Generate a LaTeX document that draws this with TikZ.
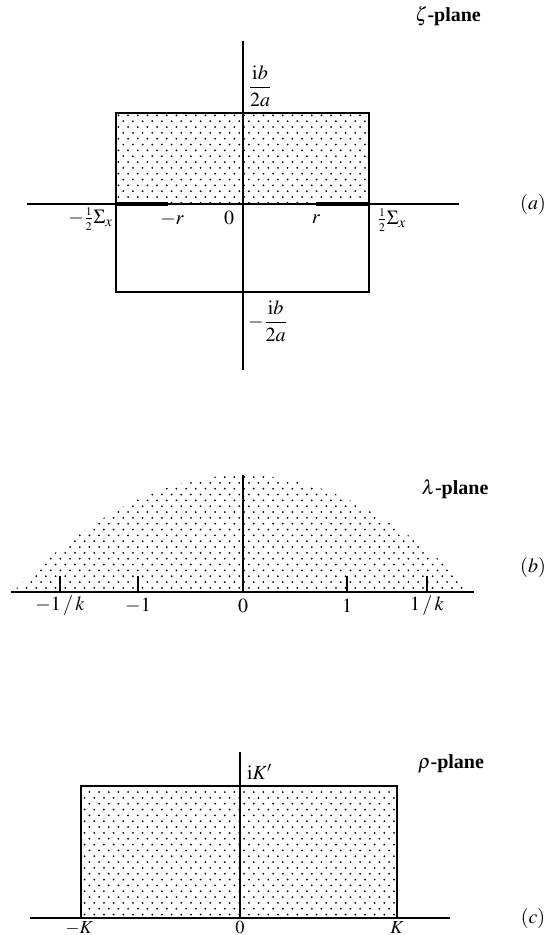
\documentclass[tikz,border=0pt]{standalone}
\usepackage{amsmath}
\usepackage{mathptmx}
\usepackage{fontspec}
\setmainfont{Liberation Serif}
\usetikzlibrary{patterns}
\pgfdeclarepatternformonly{stipple}{\pgfqpoint{-1pt}{-1pt}}{\pgfqpoint{7pt}{8pt}}{\pgfqpoint{5.8pt}{7pt}}{%
  \pgfpathcircle{\pgfqpoint{1.45pt}{1.75pt}}{0.6pt}%
  \pgfpathcircle{\pgfqpoint{4.35pt}{5.25pt}}{0.6pt}%
  \pgfusepath{fill}}
\newcommand{\halfsig}{{\textstyle\frac{\scriptscriptstyle 1}{\scriptscriptstyle 2}}\Sigma_x}
\tikzset{axis/.style = {line width=0.9pt}}
\tikzset{cut/.style = {line width=2.4pt}}
\tikzset{low/.style = {anchor=base, inner sep=0pt, font=\fontsize{11}{13}\selectfont}}
\tikzset{every picture/.style={x=0.6pt, y=-0.6pt,
    every node/.style={font=\fontsize{12}{14}\selectfont, inner sep=1pt}}}

\begin{document}
\begin{tikzpicture}
      \useasboundingbox (0,0) rectangle (544,935);
      % (a) zeta-plane
      \coordinate (ta) at (243,41);
      \coordinate (ba) at (243,370);
      \coordinate (la) at (27,204);
      \coordinate (ra) at (459,204);
      \coordinate (a1) at (116,113);
      \coordinate (a2) at (369,204);
      \coordinate (a3) at (369,292);
      \coordinate (a4) at (116,204);
      \coordinate (mr) at (168,204);
      \coordinate (pr) at (316,204);
      \fill[pattern=stipple] (a1) rectangle (a2);
      \draw[axis] (a1) rectangle (a3);
      \draw[axis] (la) -- (ra);
      \draw[axis] (ta) -- (ba);
      \draw[cut] (a4) -- (mr);
      \draw[cut] (pr) -- (a2);
      \node (zp) at (448,16) {$\zeta$\textbf{-plane}};
      \node (pa) at (533,204) {$(a)$};
      \node[anchor=west] (ib) at (246,86) {$\dfrac{\mathrm{i}b}{2a}$};
      \node[anchor=west] (mib) at (246,321) {$-\dfrac{\mathrm{i}b}{2a}$};
      \node[anchor=east] (ls) at (115,219) {$-\halfsig$};
      \node (lr) at (172,219) {$-r$};
      \node (l0) at (229,218) {$0$};
      \node (lpr) at (316,219) {$r$};
      \node[anchor=west] (rs) at (375,220) {$\halfsig$};
      % (b) lambda-plane
      \coordinate (lb) at (11,592);
      \coordinate (rb) at (474,592);
      \coordinate (ob) at (243,592);
      \coordinate (tb) at (243,475);
      \fill[pattern=stipple] (13,592) parabola bend (tb) (473,592) -- cycle;
      \draw[axis] (lb) -- (rb);
      \draw[axis] (ob) -- (tb);
      \foreach \x/\lab in {60/{-1\mskip2mu/\mskip2mu k}, 138/{-1}, 347/{1}, 427/{1\mskip2mu/\mskip2mu k}}{
        \coordinate (t\x) at (\x,592);
        \draw[axis] (t\x) -- ++(0,-16);
        \node (n\x) at (\x,606) {$\lab$};
      }
      \node (l0b) at (243,606) {$0$};
      \node (lp) at (455,489) {$\lambda$\textbf{-plane}};
      \node (pb) at (533,567) {$(b)$};
      % (c) rho-plane
      \coordinate (lc) at (30,918);
      \coordinate (rc) at (450,918);
      \coordinate (oc) at (240,918);
      \coordinate (tc) at (240,752);
      \coordinate (c1) at (81,786);
      \coordinate (c2) at (397,918);
      \fill[pattern=stipple] (c1) rectangle (c2);
      \draw[axis] (c1) rectangle (c2);
      \draw[axis] (lc) -- (rc);
      \draw[axis] (oc) -- (tc);
      \node[anchor=west] (ik) at (245,772) {$\mathrm{i}K'$};
      \node (rp) at (451,764) {$\rho$\textbf{-plane}};
      \node (pc) at (533,918) {$(c)$};
      \node[low] (lmk) at (79,933) {$-K$};
      \node[low] (l0c) at (240,933) {$0$};
      \node[low] (lk) at (397,933) {$K$};
\end{tikzpicture}
\end{document}
